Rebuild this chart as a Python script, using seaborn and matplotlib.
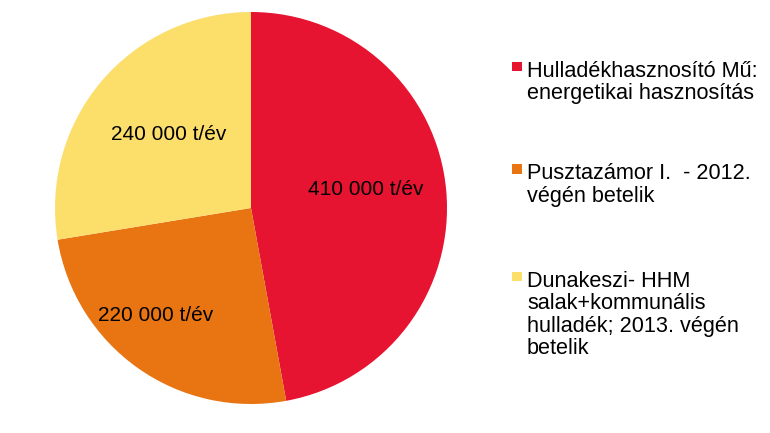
import matplotlib
matplotlib.use("Agg")
import matplotlib.pyplot as plt
import seaborn as sns
from matplotlib.patches import Rectangle

# ---- data ----
categories = [
    "Hulladékhasznosító Mű:\nenergetikai hasznosítás",
    "Pusztazámor I.  - 2012.\nvégén betelik",
    "Dunakeszi- HHM\nsalak+kommunális\nhulladék; 2013. végén\nbetelik",
]
values = [410000, 220000, 240000]
value_labels = ["410 000 t/év", "220 000 t/év", "240 000 t/év"]

# ---- style ----
colors = ["#E61331", "#E87512", "#FCDE6B"]
label_pos = [(0.584, 0.066), (-0.485, -0.575), (-0.421, 0.347)]  # data coords, baseline
legend_first_baseline = [76.7, 179.3, 286.7]  # px from top
line_step = 22.6  # px
FS = 15
LFS = 15.6

sns.set_theme(style="white")
plt.rcParams["font.family"] = ["Liberation Sans", "DejaVu Sans"]

W, H = 770, 433
fig = plt.figure(figsize=(W / 100, H / 100), dpi=100)
fig.patch.set_facecolor("white")

cx, cy, r = 251, 208, 196
ax = fig.add_axes([(cx - r) / W, (H - cy - r) / H, 2 * r / W, 2 * r / H])
ax.pie(values, colors=sns.color_palette(colors), startangle=90,
       counterclock=False, radius=1,
       wedgeprops=dict(linewidth=0))
ax.set_xlim(-1, 1)
ax.set_ylim(-1, 1)
ax.set_aspect("auto")
ax.axis("off")

for txt, (x, y) in zip(value_labels, label_pos):
    ax.text(x, y, txt, ha="center", va="baseline", fontsize=FS, color="black")

# ---- legend (manual) ----
text_x = 527
sq_x0, sq = 512, 9.5
for cat, col, b0 in zip(categories, colors, legend_first_baseline):
    sq_cy = b0 - 10.3
    fig.add_artist(Rectangle(((sq_x0) / W, (H - sq_cy - sq / 2) / H), sq / W, sq / H,
                             transform=fig.transFigure, facecolor=col,
                             edgecolor="none"))
    for i, line in enumerate(cat.split("\n")):
        yb = b0 + i * line_step
        fig.text(text_x / W, (H - yb) / H, line, ha="left", va="baseline",
                 fontsize=LFS, color="black")

fig.savefig("out.png", dpi=100, facecolor="white")
